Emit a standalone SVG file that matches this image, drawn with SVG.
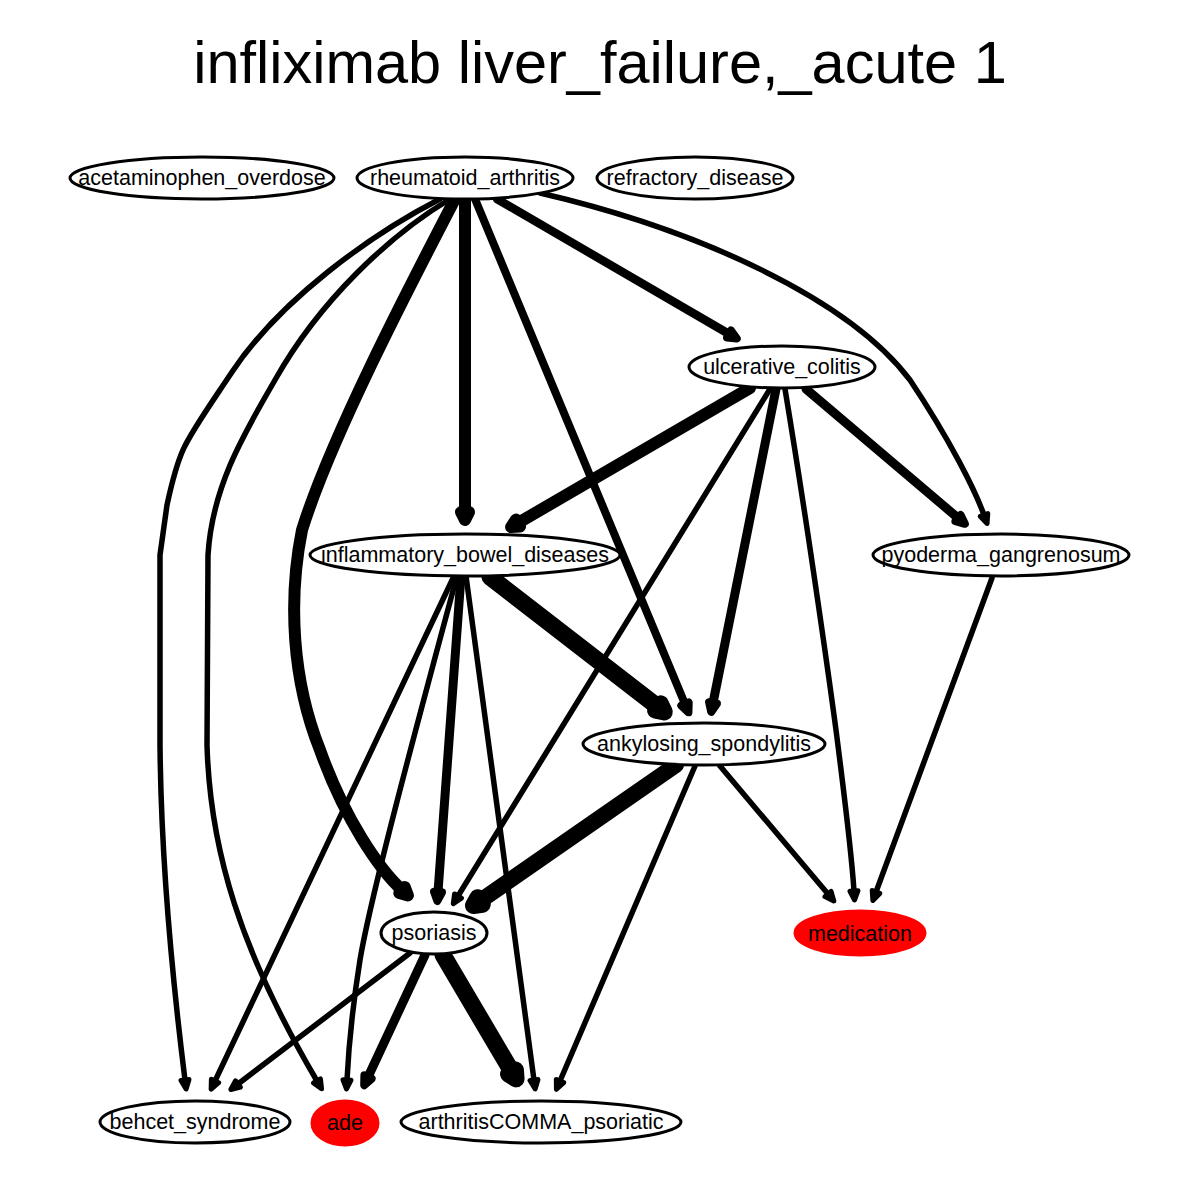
<svg xmlns="http://www.w3.org/2000/svg" width="1200" height="1200" viewBox="0 0 1200 1200">
<style>
.n ellipse{fill:#fff;stroke:#000;stroke-width:3}
.n ellipse.red{fill:#f00;stroke:#f00}
.n text{font-family:"Liberation Sans",Arial,sans-serif;font-size:21.5px;text-anchor:middle;fill:#000}
.e path{fill:none;stroke:#000;stroke-linecap:round;stroke-linejoin:round}
.t{font-family:"Liberation Sans",Arial,sans-serif;font-size:59.5px;text-anchor:middle}
</style>
<defs>
<marker id="m4" markerUnits="userSpaceOnUse" orient="auto" refX="0" refY="0" markerWidth="40" markerHeight="40" overflow="visible"><path d="M0,-4L9,0L0,4Z" fill="#000" stroke="#000" stroke-width="5" stroke-linejoin="round"/></marker>
<marker id="m8" markerUnits="userSpaceOnUse" orient="auto" refX="0" refY="0" markerWidth="40" markerHeight="40" overflow="visible"><path d="M0,-4L9,0L0,4Z" fill="#000" stroke="#000" stroke-width="8" stroke-linejoin="round"/></marker>
<marker id="m11" markerUnits="userSpaceOnUse" orient="auto" refX="0" refY="0" markerWidth="40" markerHeight="40" overflow="visible"><path d="M0,-4L8,0L0,4Z" fill="#000" stroke="#000" stroke-width="12" stroke-linejoin="round"/></marker>
<marker id="m15" markerUnits="userSpaceOnUse" orient="auto" refX="0" refY="0" markerWidth="40" markerHeight="40" overflow="visible"><path d="M0,-4L8,0L0,4Z" fill="#000" stroke="#000" stroke-width="17" stroke-linejoin="round"/></marker>
</defs>
<rect width="1200" height="1200" fill="#fff"/>
<text class="t" x="600" y="83">infliximab liver_failure,_acute 1</text>
<g id="edges" class="e">
<path d="M440,199C370,235 280,300 232,372S180,445 167,505L160,555L160,745C161,850 170,960 185,1080" stroke-width="5.5" marker-end="url(#m4)"/>
<path d="M450,199C390,235 320,300 275,380C240,440 212,490 208,555L207,745C210,850 240,950 317,1081" stroke-width="5.5" marker-end="url(#m4)"/>
<path d="M455,199C405,295 330,440 302,530C288,600 292,680 320,750C345,820 380,870 402,890" stroke-width="12" marker-end="url(#m11)"/>
<path d="M465,199L465,512" stroke-width="12" marker-end="url(#m11)"/>
<path d="M475,199L685,704" stroke-width="8" marker-end="url(#m8)"/>
<path d="M497,199L729,334" stroke-width="8.5" marker-end="url(#m8)"/>
<path d="M540,193C700,230 850,300 910,380C950,440 975,490 984,515" stroke-width="5.5" marker-end="url(#m4)"/>
<path d="M750,388L518,523" stroke-width="12" marker-end="url(#m11)"/>
<path d="M770,389L458,896" stroke-width="5.5" marker-end="url(#m4)"/>
<path d="M776,389L713,703" stroke-width="9" marker-end="url(#m8)"/>
<path d="M785,389C810,540 832,700 836,730C845,800 852,860 854,891" stroke-width="5.5" marker-end="url(#m4)"/>
<path d="M806,389L958,518" stroke-width="9" marker-end="url(#m8)"/>
<path d="M454,576L215,1081" stroke-width="5.5" marker-end="url(#m4)"/>
<path d="M457,576C410,750 370,900 360,960C352,1010 348,1060 347,1080" stroke-width="5.5" marker-end="url(#m4)"/>
<path d="M461,576L438,892" stroke-width="9" marker-end="url(#m8)"/>
<path d="M466,576L534,1080" stroke-width="5.5" marker-end="url(#m4)"/>
<path d="M490,577L658,707" stroke-width="17" marker-end="url(#m15)"/>
<path d="M992,578L876,892" stroke-width="5.5" marker-end="url(#m4)"/>
<path d="M676,765L480,901" stroke-width="16" marker-end="url(#m15)"/>
<path d="M720,766L828,894" stroke-width="5.5" marker-end="url(#m4)"/>
<path d="M695,766L560,1081" stroke-width="5.5" marker-end="url(#m4)"/>
<path d="M410,953L238,1084" stroke-width="5.5" marker-end="url(#m4)"/>
<path d="M425,955L368,1077" stroke-width="9" marker-end="url(#m8)"/>
<path d="M443,955L512,1072" stroke-width="17" marker-end="url(#m15)"/>
</g>
<g id="acetaminophen_overdose" class="n"><ellipse cx="202" cy="178" rx="132" ry="21"/><text x="202" y="185">acetaminophen_overdose</text></g>
<g id="rheumatoid_arthritis" class="n"><ellipse cx="465" cy="178" rx="108" ry="21"/><text x="465" y="185">rheumatoid_arthritis</text></g>
<g id="refractory_disease" class="n"><ellipse cx="695" cy="178" rx="98" ry="21"/><text x="695" y="185">refractory_disease</text></g>
<g id="ulcerative_colitis" class="n"><ellipse cx="782" cy="367" rx="93" ry="21"/><text x="782" y="374">ulcerative_colitis</text></g>
<g id="inflammatory_bowel_diseases" class="n"><ellipse cx="465" cy="555" rx="155" ry="21"/><text x="465" y="562">inflammatory_bowel_diseases</text></g>
<g id="pyoderma_gangrenosum" class="n"><ellipse cx="1001" cy="555" rx="128" ry="21"/><text x="1001" y="562">pyoderma_gangrenosum</text></g>
<g id="ankylosing_spondylitis" class="n"><ellipse cx="704" cy="744" rx="121" ry="21"/><text x="704" y="751">ankylosing_spondylitis</text></g>
<g id="psoriasis" class="n"><ellipse cx="434" cy="933" rx="53" ry="21"/><text x="434" y="940">psoriasis</text></g>
<g id="medication" class="n"><ellipse class="red" cx="860" cy="933" rx="65" ry="22"/><text x="860" y="941">medication</text></g>
<g id="behcet_syndrome" class="n"><ellipse cx="195" cy="1122" rx="95" ry="21"/><text x="195" y="1129">behcet_syndrome</text></g>
<g id="ade" class="n"><ellipse class="red" cx="345" cy="1123" rx="33" ry="22"/><text x="345" y="1130">ade</text></g>
<g id="arthritisCOMMA_psoriatic" class="n"><ellipse cx="541" cy="1122" rx="140" ry="21"/><text x="541" y="1129">arthritisCOMMA_psoriatic</text></g>
</svg>
